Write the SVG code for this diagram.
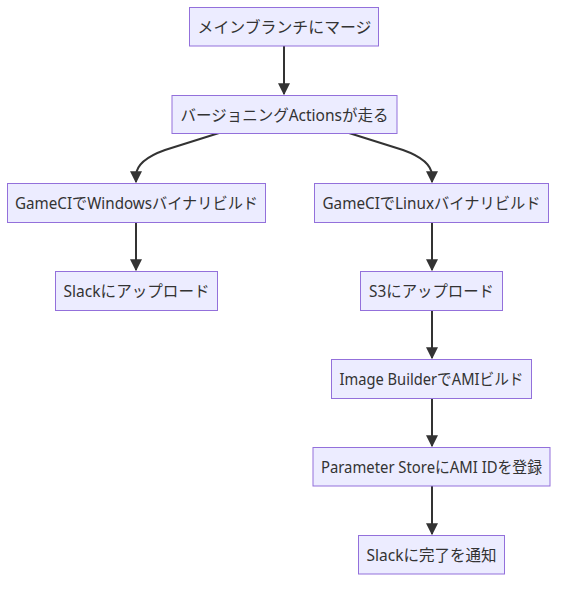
<svg xmlns="http://www.w3.org/2000/svg" width="566" height="589" viewBox="0 0 566 589">
<style>
.node rect{fill:#ECECFF;stroke:#9370DB;stroke-width:1}
.node text{font-family:"Noto Sans","Noto Sans CJK JP",sans-serif;font-size:15.5px;fill:#333333;text-anchor:middle;dominant-baseline:central}
.edges path{fill:none;stroke:#333333;stroke-width:2}
</style>
<defs>
<marker id="arrow" viewBox="0 0 10 10" refX="9" refY="5" markerUnits="userSpaceOnUse" markerWidth="12" markerHeight="12" orient="auto">
<path d="M0,0 L10,5 L0,10 z" fill="#333333"/>
</marker>
</defs>
<rect width="566" height="589" fill="#ffffff"/>
<g class="edges">
<path d="M284,46 L284,94" marker-end="url(#arrow)"/>
<path d="M219,133 L165,150 Q137,160 136,175 L136,182" marker-end="url(#arrow)"/>
<path d="M349,133 L403,150 Q431,160 432,175 L432,182" marker-end="url(#arrow)"/>
<path d="M136,222 L136,270" marker-end="url(#arrow)"/>
<path d="M432,222 L432,270" marker-end="url(#arrow)"/>
<path d="M432,310 L432,358" marker-end="url(#arrow)"/>
<path d="M432,398 L432,446" marker-end="url(#arrow)"/>
<path d="M432,486 L432,534" marker-end="url(#arrow)"/>
</g>
<g id="n1" class="node"><rect x="189.5" y="7.5" width="189" height="38.5"/><text x="284.5" y="27" textLength="174" lengthAdjust="spacingAndGlyphs">メインブランチにマージ</text></g>
<g id="n2" class="node"><rect x="172" y="95.5" width="225" height="38"/><text x="284.5" y="114.5" textLength="208" lengthAdjust="spacingAndGlyphs">バージョニングActionsが走る</text></g>
<g id="n3" class="node"><rect x="7.5" y="183.5" width="258" height="39"/><text x="136.5" y="203" textLength="243" lengthAdjust="spacingAndGlyphs">GameCIでWindowsバイナリビルド</text></g>
<g id="n4" class="node"><rect x="314.5" y="183.5" width="234" height="39"/><text x="431.5" y="203" textLength="218" lengthAdjust="spacingAndGlyphs">GameCIでLinuxバイナリビルド</text></g>
<g id="n5" class="node"><rect x="55.5" y="271.5" width="162" height="39"/><text x="136.5" y="291" textLength="146" lengthAdjust="spacingAndGlyphs">Slackにアップロード</text></g>
<g id="n6" class="node"><rect x="360.5" y="271.5" width="142" height="39"/><text x="431.5" y="291" textLength="125" lengthAdjust="spacingAndGlyphs">S3にアップロード</text></g>
<g id="n7" class="node"><rect x="331.5" y="359.5" width="200" height="39"/><text x="431.5" y="379" textLength="184" lengthAdjust="spacingAndGlyphs">Image BuilderでAMIビルド</text></g>
<g id="n8" class="node"><rect x="313" y="447.5" width="237" height="38.5"/><text x="431.5" y="467" textLength="221" lengthAdjust="spacingAndGlyphs">Parameter StoreにAMI IDを登録</text></g>
<g id="n9" class="node"><rect x="358.5" y="535.5" width="146" height="38.5"/><text x="431.5" y="555" textLength="130" lengthAdjust="spacingAndGlyphs">Slackに完了を通知</text></g>
</svg>
